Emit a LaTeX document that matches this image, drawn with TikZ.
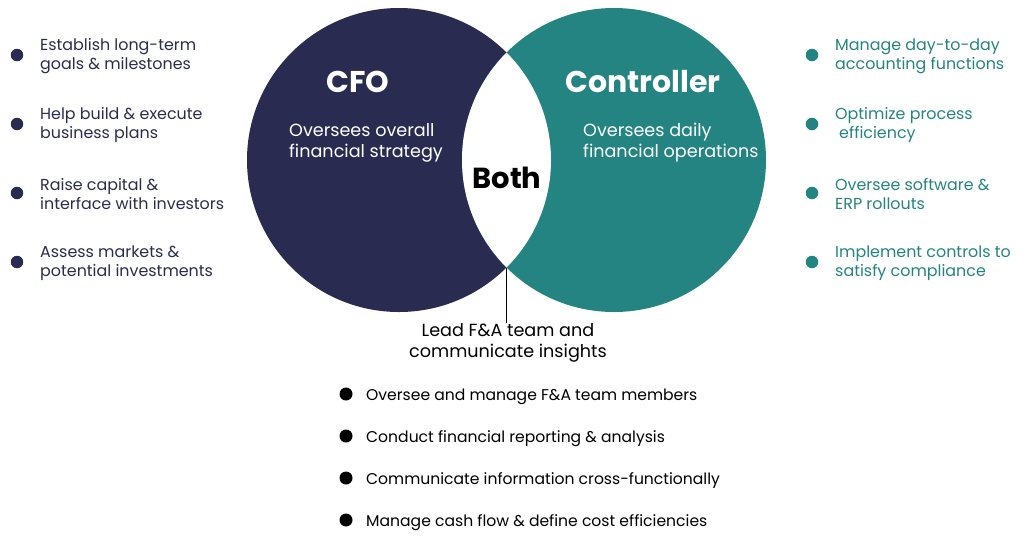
\documentclass[tikz,border=0pt]{standalone}
\usepackage{fontspec}
\setmainfont{Poppins}
\usepackage{tikz}
\usetikzlibrary{positioning,calc}
\definecolor{cfonavy}{RGB}{42,43,80}
\definecolor{ctrlteal}{RGB}{36,132,130}
\tikzset{
  dot/.style={circle,fill=#1,inner sep=0pt,minimum size=12.5pt},
  item/.style={anchor=west,align=left,text=#1,inner sep=0pt,
               font=\fontsize{15.9}{19}\selectfont},
  ring/.style={fill=#1,draw=none},
  role/.style={text=white,font=\fontsize{30}{34}\selectfont\bfseries},
  blurb/.style={text=white,anchor=west,align=left,inner sep=0pt,
                font=\fontsize{17.6}{21}\selectfont},
}

\begin{document}
\begin{tikzpicture}[x=1pt,y=-1pt]
  \useasboundingbox (0,0) rectangle (1024,558);
  % the two circles, lens left white
  \coordinate (cfoc) at (399,160);
  \coordinate (ctlc) at (614,160);
  \fill[ring=cfonavy] (cfoc) circle[radius=152pt];
  \fill[ring=ctrlteal] (ctlc) circle[radius=152pt];
  \begin{scope}
    \clip (cfoc) circle[radius=152pt];
    \fill[white] (ctlc) circle[radius=152pt];
  \end{scope}
  \coordinate (lensbot) at (506.5,268);

  \node[role] (cfo) at (358,82) {CFO};
  \node[role] (ctl) at (643,82) {Controller};
  \node[blurb] (cfotxt) at (289,143) {Oversees overall\\financial strategy};
  \node[blurb] (ctltxt) at (583,143) {Oversees daily\\financial operations};
  \node[font=\fontsize{29}{32}\selectfont\bfseries,text=black] (both) at (507,178) {Both};

  % shared duties
  \node[align=center,inner sep=0pt,font=\fontsize{17.6}{21}\selectfont] (lead) at (508,343)
    {Lead F\&A team and\\communicate insights};
  \draw[line width=1.6pt] (lensbot) -- (lensbot |- lead.north);

  % CFO list
  \foreach \yy/\txt [count=\i] in {55/{Establish long-term\\goals \& milestones},
      124/{Help build \& execute\\business plans},
      193/{Raise capital \&\\interface with investors},
      262/{Assess markets \&\\potential investments}}{
    \node[dot=cfonavy] (cfod\i) at (17,\yy) {};
    \node[item=cfonavy] (cfoi\i) at (40,\yy+1) {\txt};
  }
  % Controller list
  \foreach \yy/\txt [count=\i] in {55/{Manage day-to-day\\accounting functions},
      124/{Optimize process\\\hspace{0.25em}efficiency},
      193/{Oversee software \&\\ERP rollouts},
      262/{Implement controls to\\satisfy compliance}}{
    \node[dot=ctrlteal] (ctld\i) at (812,\yy) {};
    \node[item=ctrlteal] (ctli\i) at (835,\yy+1) {\txt};
  }
  % Both list
  \foreach \yy/\txt [count=\i] in {394/{Oversee and manage F\&A team members},
      436/{Conduct financial reporting \& analysis},
      478/{Communicate information cross-functionally},
      520/{Manage cash flow \& define cost efficiencies}}{
    \node[dot=black,minimum size=13pt] (bothd\i) at (346,\yy) {};
    \node[item=black,font=\fontsize{15.6}{19}\selectfont] (bothi\i) at (366,\yy+3) {\txt};
  }
\end{tikzpicture}
\end{document}
